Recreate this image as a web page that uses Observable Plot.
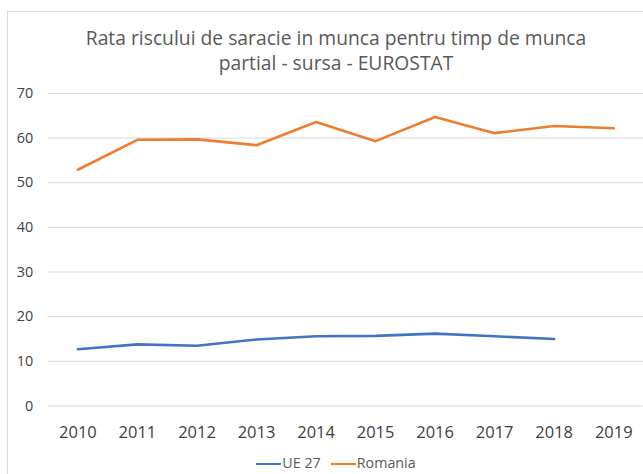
<!DOCTYPE html>
<html>
<head>
<meta charset="utf-8">
<script src="https://cdn.jsdelivr.net/npm/d3@7"></script>
<script src="https://cdn.jsdelivr.net/npm/@observablehq/plot@0.6"></script>
<style>
  html, body { margin: 0; padding: 0; background: #fff; width: 643px; height: 474px; overflow: hidden; }
  #frame { position: absolute; left: 7px; top: 11px; width: 660px; height: 480px; border-left: 1px solid #d9d9d9; border-top: 1px solid #d9d9d9; }
  #title { position: absolute; left: 0; top: 25px; width: 672px; text-align: center; font-family: "Open Sans", sans-serif; font-size: 19.3px; line-height: 25px; color: #595959; white-space: nowrap; }
  #chart { position: absolute; left: 0; top: 80px; }
  #legend { position: absolute; left: 0; top: 454px; width: 672px; text-align: center; font-family: "Open Sans", sans-serif; font-size: 14.3px; line-height: 18px; color: #595959; white-space: nowrap; }
  .sw { display: inline-block; width: 25px; height: 0; border-top: 2.5px solid; vertical-align: middle; margin-right: 1px; }
  .item { margin: 0 5px; }
</style>
</head>
<body>
<div id="frame"></div>
<div id="title">Rata riscului de saracie in munca pentru timp de munca<br>partial - sursa - EUROSTAT</div>
<div id="chart"></div>
<div id="legend"></div>
<script>
const years = ["2010","2011","2012","2013","2014","2015","2016","2017","2018","2019"];
const ue27 = [12.7, 13.8, 13.5, 14.9, 15.6, 15.7, 16.2, 15.6, 15.0, null];
const romania = [52.9, 59.6, 59.7, 58.4, 63.6, 59.3, 64.7, 61.1, 62.7, 62.2];
const seriesNames = ["UE 27", "Romania"];
const seriesColors = ["#4472C4", "#ED7D31"];
const yTicks = [0, 10, 20, 30, 40, 50, 60, 70];

const data = [];
years.forEach((y, i) => {
  if (ue27[i] != null) data.push({year: y, value: ue27[i], series: seriesNames[0]});
  if (romania[i] != null) data.push({year: y, value: romania[i], series: seriesNames[1]});
});

const chart = Plot.plot({
  width: 648,
  height: 370,
  marginLeft: 48,
  marginRight: 0,
  marginTop: 13,
  marginBottom: 42,
  style: {fontFamily: "Open Sans, sans-serif", background: "transparent", overflow: "visible"},
  x: {type: "point", domain: years, padding: 0.5, label: null},
  y: {domain: [0, 70], label: null},
  color: {domain: seriesNames, range: seriesColors},
  marks: [
    Plot.ruleY(yTicks, {stroke: "#d9d9d9", strokeWidth: 1}),
    Plot.axisY({ticks: yTicks, tickSize: 0, tickPadding: 15, fontSize: 14.5, fill: "#404040", label: null}),
    Plot.axisX({tickSize: 0, tickPadding: 20, fontSize: 16.6, fill: "#404040", label: null}),
    Plot.line(data, {x: "year", y: "value", z: "series", stroke: "series", strokeWidth: 2.6, curve: "linear"})
  ]
});
document.getElementById("chart").appendChild(chart);

const legend = document.getElementById("legend");
seriesNames.forEach((n, i) => {
  const s = document.createElement("span");
  s.className = "item";
  s.innerHTML = `<span class="sw" style="border-color:${seriesColors[i]}"></span>${n}`;
  legend.appendChild(s);
});
</script>
</body>
</html>
